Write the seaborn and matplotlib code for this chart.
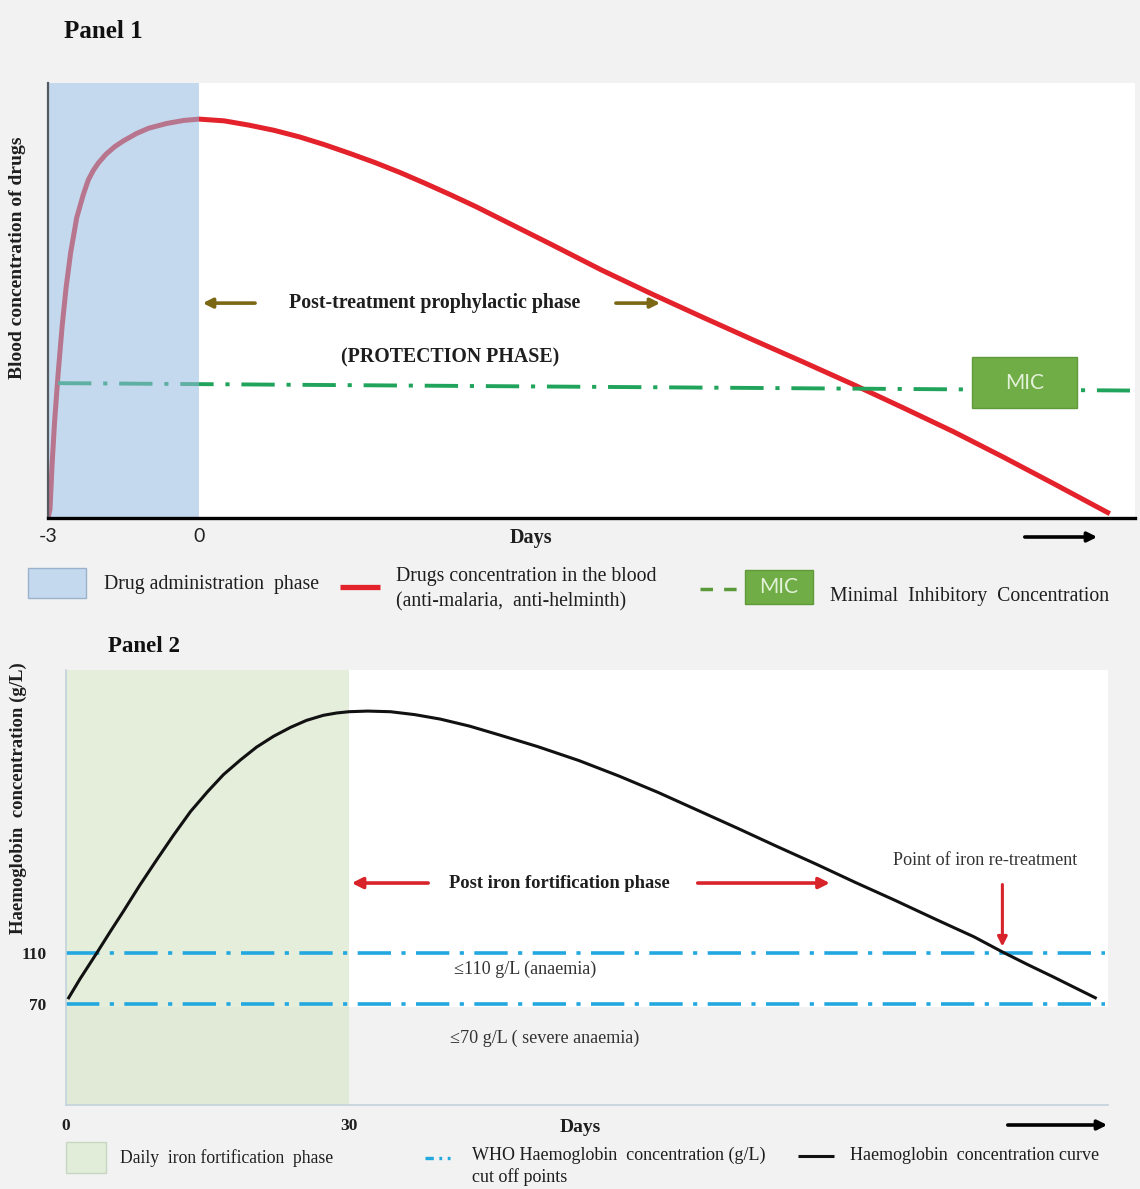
import numpy as np
import pandas as pd
import matplotlib
matplotlib.use("Agg")
import matplotlib.pyplot as plt
from matplotlib.patches import Rectangle, FancyArrowPatch
from matplotlib.lines import Line2D
import seaborn as sns

# ---------------- data ----------------
# Panel 1: drug concentration (arbitrary units) vs days
drug_days = [-3.0, -2.96, -2.92, -2.87, -2.8, -2.72, -2.64, -2.55, -2.43, -2.3, -2.2, -2.1, -2.0, -1.85,
             -1.67, -1.5, -1.24, -1.0, -0.64, -0.3,
             0, 0.5, 1, 1.5, 2, 2.5, 3, 3.5, 4, 4.5, 5, 5.5, 6, 6.5, 7, 8, 9, 10, 11, 12, 13, 14, 15,
             16, 17, 18, 18.1]
drug_conc = [0, 2, 12, 22, 33, 44, 53, 61, 69, 74.3, 77.7, 79.9, 81.6, 83.6,
             85.4, 86.7, 88.4, 89.6, 90.7, 91.4,
             91.7, 91.3, 90.3, 89.1, 87.6, 85.8, 83.8, 81.7, 79.4, 76.9, 74.3, 71.6, 68.7, 65.8, 62.9,
             57.0, 51.5, 46.2, 41.0, 35.9, 30.7, 25.3, 19.8, 13.9, 7.8, 1.6, 1.0]
mic_days = [-2.8, 18.5]
mic_level = [31.0, 29.3]
dosing_window = [-3, 0]
p1_ticks = [-3, 0]
p1_ticklabels = ["-3", "0"]

# Panel 2: haemoglobin concentration (g/L) vs days
hb_days = [0.2, 1.5, 3.25, 4.7, 6.1, 7.8, 9.6, 11.4, 13.2, 15, 16.7, 18.5, 20.2, 22, 23.8, 25.5, 27.3,
           28.7, 30, 32, 34.4, 37, 39.7, 42.8, 46, 50, 54.4, 58.6, 62.8, 67, 71.2, 75.3, 79.5, 83.7,
           87.9, 92.1, 96.3, 99.3, 102, 104.7, 109.3]
hb_conc = [74, 90, 110, 127, 143, 163, 183, 202.5, 221, 236.5, 250, 261.5, 271.5, 280, 287, 292.5, 296.5,
           298.3, 299.3, 299.8, 299.3, 297, 293.5, 288, 281, 272, 261, 249, 236, 222, 208, 194, 180,
           165.5, 151.5, 137, 122.8, 111, 101, 91.4, 74.5]
hb_cutoffs = [110, 70]
cutoff_span = [0, 110.2]
fortification_window = [0, 30]
p2_xticks = [0, 30]
p2_xticklabels = ["0", "30"]
retreat_day = 99.3

# ---------------- style ----------------
sns.set_theme(style="white")
plt.rcParams["font.family"] = ["Liberation Serif", "DejaVu Serif"]
plt.rcParams["lines.scale_dashes"] = False
plt.rcParams["lines.solid_capstyle"] = "butt"
plt.rcParams["lines.solid_joinstyle"] = "round"

W, H = 1140, 1189
BG = "#f2f2f2"
fig = plt.figure(figsize=(11.4, 11.89), dpi=100, facecolor=BG)


def fx(px):
    return px / W


def fy(py):
    return 1 - py / H


def farrow(x0, y0, x1, y1, color, lw=2.5, ms=16):
    a = FancyArrowPatch((fx(x0), fy(y0)), (fx(x1), fy(y1)), transform=fig.transFigure,
                        arrowstyle="-|>", color=color, lw=lw, mutation_scale=ms)
    fig.add_artist(a)


TXT = "#1e1e1e"

# ================= Panel 1 =================
ax1 = fig.add_axes([fx(48), fy(518), fx(1135) - fx(48), fy(83) - fy(518)])
ax1.set_facecolor("white")
df1 = pd.DataFrame({"day": drug_days, "conc": drug_conc})
sns.lineplot(data=df1, x="day", y="conc", ax=ax1, color="#e3222b", lw=3.6, sort=False, zorder=2)
dfm = pd.DataFrame({"day": mic_days, "level": mic_level})
sns.lineplot(data=dfm, x="day", y="level", ax=ax1, color="#20a35a", lw=2.8,
             linestyle=(0, (24, 8.5, 3, 8.5)), zorder=2)
ax1.axvspan(dosing_window[0], dosing_window[1], color="#95bae0", alpha=0.55, lw=0, zorder=3)
ax1.set_xlim(-3, 18.6)
ax1.set_ylim(0, 100)

for s in ["top", "right"]:
    ax1.spines[s].set_visible(False)
ax1.spines["left"].set_color("#555a60")
ax1.spines["left"].set_linewidth(1.6)
ax1.spines["left"].set_zorder(4)
ax1.spines["bottom"].set_color("black")
ax1.spines["bottom"].set_linewidth(2.4)
ax1.spines["bottom"].set_zorder(4)

ax1.set_xticks(p1_ticks)
ax1.set_xticklabels(p1_ticklabels, family="Lato", fontsize=14, color="#222222")
ax1.tick_params(axis="x", length=0, pad=7)
ax1.set_yticks([])
ax1.set_xlabel("Days", fontsize=14.5, fontweight="bold", color=TXT)
ax1.xaxis.set_label_coords((531 - 48) / 1087, -0.046)
ax1.xaxis.label.set_va("center")
ax1.set_ylabel("Blood concentration of drugs", fontsize=14, fontweight="bold", color=TXT)
ax1.yaxis.set_label_coords((18 - 48) / 1087, (518 - 258) / 435)
ax1.yaxis.label.set_va("center")

# MIC box
ax1.add_patch(Rectangle((15.36, 25.3), 2.08, 11.7, fc="#70ad47", ec="#5e9a3a", lw=1, zorder=5))
ax1.text(16.4, 31.1, "MIC", family="Lato", fontsize=15, color="#e3f1d8", ha="center", va="center", zorder=6)

# phase annotations
ac = "#7b6714"
ax1.annotate("", xy=(0.02, 49.4), xytext=(1.17, 49.4),
             arrowprops=dict(arrowstyle="-|>", color=ac, lw=2.6, mutation_scale=14), zorder=6)
ax1.annotate("", xy=(9.22, 49.4), xytext=(8.23, 49.4),
             arrowprops=dict(arrowstyle="-|>", color=ac, lw=2.6, mutation_scale=14), zorder=6)
ax1.text(4.69, 49.4, "Post-treatment prophylactic phase", ha="center", va="center",
         fontsize=14.3, fontweight="bold", color=TXT)
ax1.text(4.99, 37.0, "(PROTECTION PHASE)", ha="center", va="center",
         fontsize=14.3, fontweight="bold", color=TXT)

fig.text(fx(103), fy(32), "Panel 1", fontsize=18, fontweight="bold", ha="center", va="center", color="#111111")
farrow(1022, 537, 1100, 537, "black", lw=2.6, ms=14)

# legend panel 1
LF = 14.2
fig.add_artist(Rectangle((fx(28), fy(598)), fx(86) - fx(28), fy(568) - fy(598), transform=fig.transFigure,
                         fc="#c5d9ee", ec="#9ab3cc", lw=1))
fig.text(fx(104), fy(585), "Drug administration  phase", fontsize=LF, va="center", color=TXT)
fig.add_artist(Line2D([fx(340), fx(380)], [fy(587), fy(587)], transform=fig.transFigure,
                      color="#e3222b", lw=3.8))
fig.text(fx(396), fy(577), "Drugs concentration in the blood", fontsize=LF, va="center", color=TXT)
fig.text(fx(396), fy(602), "(anti-malaria,  anti-helminth)", fontsize=LF, va="center", color=TXT)
fig.add_artist(Line2D([fx(700), fx(740)], [fy(589), fy(589)], transform=fig.transFigure,
                      color="#5a9a3a", lw=2.5, linestyle=(0, (9, 8))))
fig.add_artist(Rectangle((fx(745), fy(604)), fx(813) - fx(745), fy(570) - fy(604), transform=fig.transFigure,
                         fc="#70ad47", ec="#5e9a3a", lw=1))
fig.text(fx(779), fy(587), "MIC", family="Lato", fontsize=15, color="#e3f1d8", ha="center", va="center")
fig.text(fx(830), fy(596), "Minimal  Inhibitory  Concentration", fontsize=LF, va="center", color=TXT)

# ================= Panel 2 =================
ax2 = fig.add_axes([fx(66), fy(1105), fx(1108) - fx(66), fy(670) - fy(1105)])
ax2.set_facecolor(BG)
ax2.set_xlim(0, 110.5)
ax2.set_ylim(-9, 332)
ax2.axhspan(68, 332, color="white", lw=0, zorder=0.1)
ax2.axvspan(fortification_window[0], fortification_window[1], color="#d9e8cc", alpha=0.7, lw=0, zorder=0.2)

for lvl in hb_cutoffs:
    dfc = pd.DataFrame({"day": cutoff_span, "hb": [lvl, lvl]})
    sns.lineplot(data=dfc, x="day", y="hb", ax=ax2, color="#22a8df", lw=2.6,
                 linestyle=(0, (24, 7.5, 3, 7.5)), zorder=2)

df2 = pd.DataFrame({"day": hb_days, "hb": hb_conc})
sns.lineplot(data=df2, x="day", y="hb", ax=ax2, color="#111111", lw=2.2, sort=False, zorder=3)

for s in ["top", "right"]:
    ax2.spines[s].set_visible(False)
for s in ["left", "bottom"]:
    ax2.spines[s].set_color("#c3d2dc")
    ax2.spines[s].set_linewidth(1.2)

ax2.set_xticks(p2_xticks)
ax2.set_xticklabels(p2_xticklabels, fontsize=12.5, fontweight="bold", color=TXT)
ax2.tick_params(axis="x", length=0, pad=9)
ax2.set_yticks(hb_cutoffs)
ax2.set_yticklabels([str(v) for v in hb_cutoffs], fontsize=12.5, fontweight="bold", color=TXT)
ax2.tick_params(axis="y", length=0, pad=14)
ax2.set_xlabel("Days", fontsize=14, fontweight="bold", color=TXT)
ax2.xaxis.set_label_coords((580 - 66) / 1042, -22 / 435)
ax2.xaxis.label.set_va("center")
ax2.set_ylabel("Haemoglobin  concentration (g/L)", fontsize=13.5, fontweight="bold", color=TXT)
ax2.yaxis.set_label_coords((18 - 66) / 1042, (1105 - 798) / 435)
ax2.yaxis.label.set_va("center")

# annotations panel 2
rc = "#d8232a"
ax2.annotate("", xy=(30.0, 165), xytext=(38.7, 165),
             arrowprops=dict(arrowstyle="-|>", color=rc, lw=2.6, mutation_scale=16), zorder=6)
ax2.annotate("", xy=(81.3, 165), xytext=(66.7, 165),
             arrowprops=dict(arrowstyle="-|>", color=rc, lw=2.6, mutation_scale=16), zorder=6)
ax2.text(52.3, 165, "Post iron fortification phase", ha="center", va="center",
         fontsize=13.3, fontweight="bold", color=TXT)
ax2.text((985 - 66) / 9.43, 70 + (1004 - 860) / 1.275, "Point of iron re-treatment", ha="center",
         va="center", fontsize=13.1, color="#333333")
ax2.annotate("", xy=(retreat_day, 113), xytext=(retreat_day, 166),
             arrowprops=dict(arrowstyle="-|>", color=rc, lw=2.2, mutation_scale=14), zorder=6)
ax2.text(48.7, 97, "\u2264110 g/L (anaemia)", ha="center", va="center", fontsize=13.1, color="#333333")
ax2.text(50.8, 43, "\u226470 g/L ( severe anaemia)", ha="center", va="center", fontsize=13.1, color="#333333")

fig.text(fx(144), fy(647), "Panel 2", fontsize=16.5, fontweight="bold", ha="center", va="center", color="#111111")
farrow(1005, 1125, 1110, 1125, "black", lw=2.6, ms=14)

# legend panel 2
LF2 = 13
fig.add_artist(Rectangle((fx(66), fy(1173)), fx(106) - fx(66), fy(1142) - fy(1173), transform=fig.transFigure,
                         fc="#e2edd9", ec="#c6d6c0", lw=1))
fig.text(fx(120), fy(1158), "Daily  iron fortification  phase", fontsize=12.7, va="center", color=TXT)
fig.add_artist(Line2D([fx(425), fx(450)], [fy(1158), fy(1158)], transform=fig.transFigure,
                      color="#22a8df", lw=2.4, linestyle=(0, (6, 4, 2, 4))))
fig.text(fx(472), fy(1155), "WHO Haemoglobin  concentration (g/L)", fontsize=LF2, va="center", color=TXT)
fig.text(fx(472), fy(1177), "cut off points", fontsize=LF2, va="center", color=TXT)
fig.add_artist(Line2D([fx(798), fx(834)], [fy(1156), fy(1156)], transform=fig.transFigure,
                      color="#111111", lw=2.2))
fig.text(fx(850), fy(1155), "Haemoglobin  concentration curve", fontsize=LF2, va="center", color=TXT)

fig.savefig("out.png", dpi=100, facecolor=BG)
